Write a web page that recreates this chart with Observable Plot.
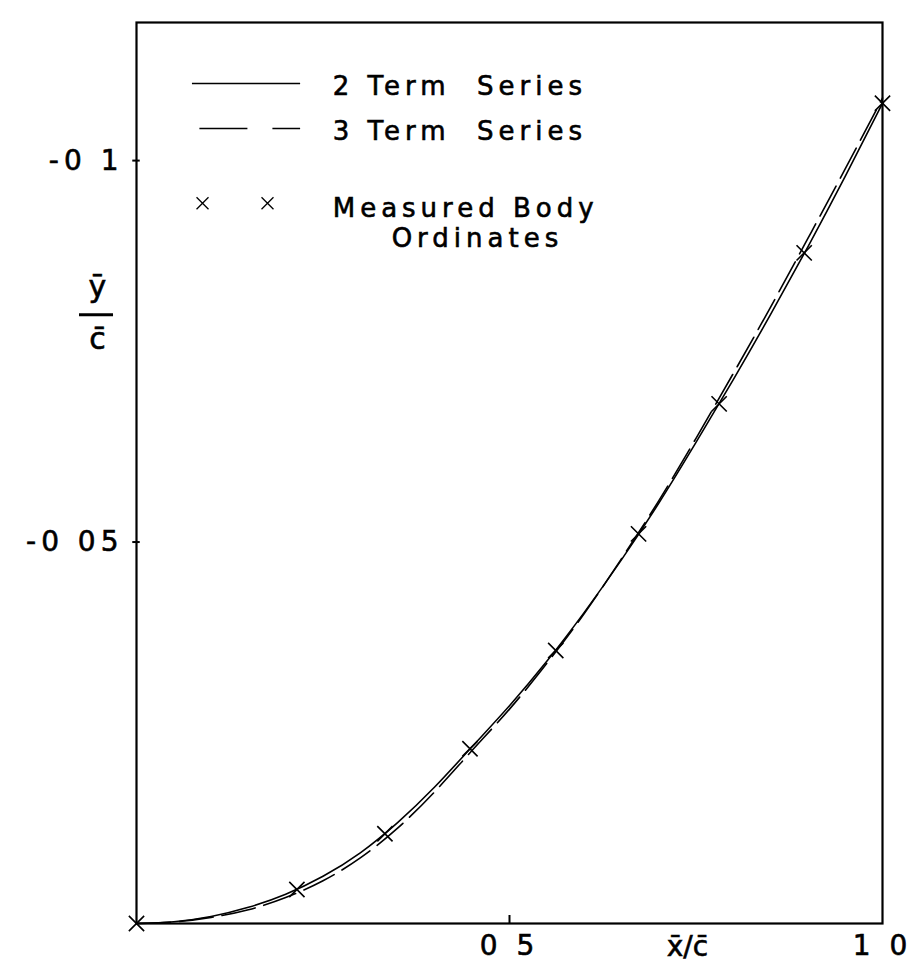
<!DOCTYPE html>
<html><head><meta charset="utf-8">
<script src="https://cdn.jsdelivr.net/npm/d3@7"></script>
<script src="https://cdn.jsdelivr.net/npm/@observablehq/plot@0.6"></script>
<style>body{margin:0;background:#fff}</style>
</head><body><div id="chart"></div>
<script>
// x/c grid for the two fitted series
const xGrid = [0,0.05,0.1,0.15,0.2,0.25,0.3,0.35,0.4,0.45,0.5,0.55,0.6,0.65,0.7,0.75,0.8,0.85,0.9,0.95,1.0];
// 2 Term Series (solid)
const twoTerm = [0,-0.00023,-0.00092,-0.00212,-0.00384,-0.00619,-0.00927,-0.01323,-0.01792,-0.02319,-0.02855,-0.03436,-0.04075,-0.04766,-0.05508,-0.06306,-0.0713,-0.07984,-0.0887,-0.09792,-0.1075];
// 3 Term Series (dashed)
const threeTerm = [0,-0.0002,-0.0008,-0.0018,-0.0034,-0.0056,-0.0086,-0.0125,-0.0173,-0.0227,-0.0281,-0.0341,-0.0406,-0.0478,-0.0554,-0.0636,-0.0721,-0.0808,-0.0898,-0.0989,-0.1082];
// Measured Body Ordinates (crosses)
const measuredX = [0,0.215,0.333,0.447,0.562,0.673,0.781,0.895,1.0];
const measuredY = [0,-0.00446,-0.01176,-0.0229,-0.03578,-0.05107,-0.06811,-0.0879,-0.10751];
// ticks
const xTicks = [0.5,1.0];
const xTickLabels = ["0 5","1 0"];
const yTicks = [-0.1,-0.05];
const yTickLabels = ["-0 1","-0 05"];
const legendLabels = ["2 Term  Series","3 Term  Series","Measured Body","Ordinates"];
const xLabel = "x\u0304/c\u0304";
const yLabelTop = "\u0233";
const yLabelBottom = "c\u0304";

const solid = xGrid.map((x,i)=>({x, y: twoTerm[i]}));
const dashed = xGrid.map((x,i)=>({x, y: threeTerm[i]}));
const measured = measuredX.map((x,i)=>({x, y: measuredY[i]}));

const font = "DejaVu Sans";
const chart = Plot.plot({
  width: 921, height: 974,
  marginLeft: 136, marginRight: 39, marginTop: 22, marginBottom: 51,
  style: {fontFamily: font, fontSize: "28px", color: "#000", background: "#fff"},
  x: {domain: [0, 1], axis: null},
  y: {domain: [0, -0.1181], axis: null},
  marks: [
    Plot.frame({stroke: "#000", strokeWidth: 2.2}),
    Plot.axisX(xTicks, {anchor: "bottom", label: null, tickSize: 0, tickPadding: 12, fontSize: 28,
      tickFormat: d => xTickLabels[xTicks.indexOf(d)]}),
    Plot.axisY(yTicks, {anchor: "left", label: null, tickSize: 0, tickPadding: 13, fontSize: 28,
      tickFormat: d => yTickLabels[yTicks.indexOf(d)]}),
    Plot.ruleX([0.5], {y1: 0, y2: -0.00105, stroke: "#000", strokeWidth: 2}),
    Plot.ruleY(yTicks, {x1: -0.005, x2: 0.005, stroke: "#000", strokeWidth: 2}),
    Plot.line(solid, {x: "x", y: "y", curve: "natural", stroke: "#000", strokeWidth: 1.6}),
    Plot.line(dashed, {x: "x", y: "y", curve: "natural", stroke: "#000", strokeWidth: 1.6, strokeDasharray: "34,9"}),
    Plot.dot(measured, {x: "x", y: "y", symbol: "times", r: 7, stroke: "#000", strokeWidth: 1.6}),
    // legend
    Plot.ruleY([-0.1101], {x1: 0.075, x2: 0.22, stroke: "#000", strokeWidth: 1.6}),
    Plot.ruleY([-0.1042], {x1: 0.085, x2: 0.22, stroke: "#000", strokeWidth: 1.6, strokeDasharray: "48,25"}),
    Plot.dot([0.0885, 0.1756], {x: d => d, y: () => -0.0944, symbol: "times", r: 5.5, stroke: "#000", strokeWidth: 1.3}),
    Plot.text([legendLabels[0]], {x: 0.263, y: -0.1097, textAnchor: "start", fontSize: 26}),
    Plot.text([legendLabels[1]], {x: 0.263, y: -0.1038, textAnchor: "start", fontSize: 26}),
    Plot.text([legendLabels[2]], {x: 0.263, y: -0.0937, textAnchor: "start", fontSize: 26}),
    Plot.text([legendLabels[3]], {x: 0.457, y: -0.0898, textAnchor: "middle", fontSize: 26}),
    // axis labels
    Plot.text([xLabel], {x: 0.7386, y: 0, dy: 24, fontSize: 28}),
    Plot.text([yLabelTop], {x: -0.0523, y: -0.0834, fontSize: 30}),
    Plot.ruleY([-0.0798], {x1: -0.0764, x2: -0.0308, stroke: "#000", strokeWidth: 3}),
    Plot.text([yLabelBottom], {x: -0.0523, y: -0.0766, fontSize: 30})
  ]
});
d3.select(chart).selectAll("text").each(function() {
  const t = this.textContent;
  const s = d3.select(this);
  s.style("stroke", "#000").style("stroke-width", "0.6px");
  if (legendLabels.includes(t)) s.style("letter-spacing", "5px").style("white-space", "pre");
  if (xTickLabels.includes(t) || yTickLabels.includes(t)) s.style("letter-spacing", "5px");
});
document.getElementById("chart").appendChild(chart);
</script>
</body></html>
